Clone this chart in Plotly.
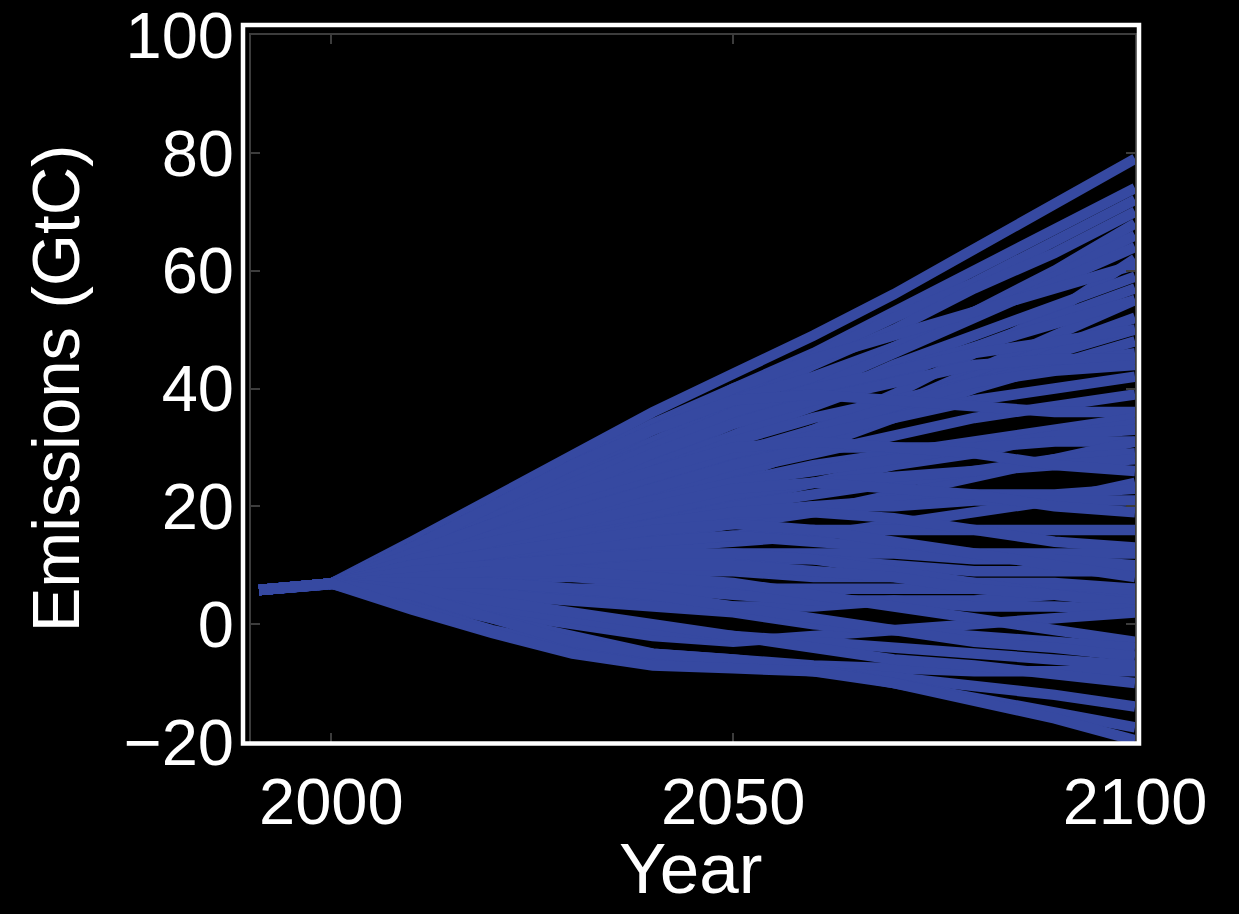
import plotly.graph_objects as go

# ---------------- data ----------------
years = [1991, 2000, 2010, 2020, 2030, 2040, 2050, 2060, 2070, 2080, 2090, 2100]

high_paths = [
    [5.8, 6.9, 14, 21.5, 29, 36, 42.5, 49, 56, 63.5, 71, 79],
    [5.8, 6.9, 13, 20, 27, 34, 40, 46, 53, 60, 67, 74],
    [5.8, 6.9, 13, 19.5, 26, 33, 39, 45.5, 52, 58, 65, 72],
    [5.8, 6.9, 12, 18, 25, 31, 37, 44, 50, 57, 63, 70],
    [5.8, 6.9, 12, 18, 24, 30, 35, 41, 47, 53, 60, 68],
    [5.8, 6.9, 13, 20, 27, 33, 38, 42, 47, 53, 59, 66],
    [5.8, 6.9, 11, 16, 22, 28, 34, 40, 46, 52, 58, 64],
    [5.8, 6.9, 11, 16, 20, 24, 28, 33, 39, 46, 53, 62],
    [5.8, 6.9, 12, 19, 26, 33, 40, 45, 49, 53, 57, 61],
    [5.8, 6.9, 11, 15, 20, 26, 32, 38, 44, 49, 54, 59],
    [5.8, 6.9, 12, 17, 22, 27, 32, 37, 42, 47, 52, 57],
    [5.8, 6.9, 9, 13, 17, 21, 26, 31, 37, 43, 49, 55],
    [5.8, 6.9, 13, 19, 25, 30, 35, 39, 43, 47, 51, 55],
    [5.8, 6.9, 11, 14, 18, 22, 27, 32, 37, 42, 47, 52],
    [5.8, 6.9, 10, 14, 18, 22, 26, 31, 36, 41, 46, 50],
    [5.8, 6.9, 12, 18, 24, 30, 36, 40, 43, 46, 48, 50],
]

mid_paths = [
    [5.8, 6.9, 10, 13, 17, 21, 25, 30, 35, 40, 44, 48],
    [5.8, 6.9, 12, 17, 21, 26, 31, 35, 38, 41, 44, 46],
    [5.8, 6.9, 12, 17, 23, 29, 34, 38, 41, 44, 45, 45],
    [5.8, 6.9, 10, 15, 20, 25, 29, 33, 37, 41, 43, 44],
    [5.8, 6.9, 11, 16, 21, 25, 29, 32, 35, 38, 40, 42],
    [5.8, 6.9, 10, 14, 18, 22, 26, 29, 32, 35, 37, 39],
    [5.8, 6.9, 13, 20, 27, 33, 38, 39, 38, 37, 36, 36],
    [5.8, 6.9, 9, 12, 16, 20, 24, 27, 29, 31, 33, 35],
    [5.8, 6.9, 9, 12, 15, 18, 21, 24, 27, 29, 32, 34],
    [5.8, 6.9, 11, 15, 18, 21, 24, 26, 28, 30, 32, 33],
    [5.8, 6.9, 11, 15, 19, 23, 27, 30, 30, 30, 31, 31],
    [5.8, 6.9, 9, 11, 13, 15, 17, 19, 22, 25, 28, 31],
    [5.8, 6.9, 8, 11, 14, 17, 20, 22, 24, 26, 28, 29],
    [5.8, 6.9, 10, 13, 16, 19, 22, 24, 25, 26, 27, 28],
    [5.8, 6.9, 12, 17, 22, 26, 30, 31, 30, 29, 27, 26],
    [5.8, 6.9, 8, 10, 12, 13, 14, 15, 17, 19, 21, 24],
    [5.8, 6.9, 9, 11, 13, 16, 18, 20, 21, 22, 22, 23],
    [5.8, 6.9, 10, 13, 15, 17, 19, 20, 20, 21, 21, 21],
    [5.8, 6.9, 11, 14, 17, 20, 23, 24, 23, 22, 20, 19],
    [5.8, 6.9, 8, 10, 12, 14, 15, 16, 16, 16, 16, 16],
    [5.8, 6.9, 9, 12, 14, 17, 19, 19, 18, 16, 14, 13],
    [5.8, 6.9, 10, 12, 13, 14, 15, 14, 13, 12, 12, 12],
]

low_paths = [
    [5.8, 6.9, 8, 9, 10, 11, 12, 12, 12, 11, 11, 10],
    [5.8, 6.9, 9, 10, 11, 11, 11, 11, 10, 9, 9, 9],
    [5.8, 6.9, 10, 12, 14, 16, 17, 16, 14, 12, 10, 8],
    [5.8, 6.9, 8, 8, 9, 9, 9, 8, 8, 7, 7, 6],
    [5.8, 6.9, 8, 8, 8, 7, 6, 6, 6, 6, 6, 6],
    [5.8, 6.9, 6, 6, 5, 4, 3, 3, 4, 4, 5, 5],
    [5.8, 6.9, 9, 10, 11, 12, 12, 11, 9, 7, 5, 4],
    [5.8, 6.9, 7, 8, 9, 10, 10, 9, 8, 6, 5, 3.5],
    [5.8, 6.9, 7, 7, 6, 6, 5, 4, 4, 3, 3, 2.5],
    [5.8, 6.9, 5, 2, 0, -2, -3, -2, -1, 0, 1, 2],
    [5.8, 6.9, 8, 9, 9, 8, 7, 5, 3, 1, -1, -3],
    [5.8, 6.9, 6, 5, 4, 3, 2, 0, -1, -2, -3, -4],
    [5.8, 6.9, 7, 7, 6, 5, 3, 1, -1, -3, -4, -5.5],
    [5.8, 6.9, 5, 3, 1, -1, -2, -3, -4, -5, -6, -7],
    [5.8, 6.9, 4, 1, -2, -5, -6, -7, -7.5, -8, -8, -8],
    [5.8, 6.9, 6, 4, 2, 0, -2, -4, -6, -7, -8.5, -10],
    [5.8, 6.9, 3, -1, -4, -6, -7, -8, -9, -10.5, -12, -14],
    [5.8, 6.9, 5, 1, -3, -5, -6, -7.5, -10, -12.5, -15, -17.5],
    [5.8, 6.9, 2.5, -1.5, -5, -7, -7.5, -8, -10, -13, -16, -19.7],
]

x_ticks = [2000, 2050, 2100]
x_tick_labels = ["2000", "2050", "2100"]
y_ticks = [-20, 0, 20, 40, 60, 80, 100]
y_tick_labels = ["\u221220", "0", "20", "40", "60", "80", "100"]
x_title = "Year"
y_title = "Emissions (GtC)"

# ---------------- figure ----------------
LINE = "#3649A1"
FONT = "Liberation Sans, Arial, Helvetica, sans-serif"

fig = go.Figure()
for group in (high_paths, mid_paths, low_paths):
    for path in group:
        fig.add_trace(go.Scatter(
            x=years, y=path, mode="lines",
            line=dict(color=LINE, width=10.5),
            showlegend=False, hoverinfo="skip",
        ))

W, H = 1239, 914
L, R, T, B = 251, 1135, 35, 742

fig.update_layout(
    width=W, height=H,
    margin=dict(l=L, r=W - R, t=T, b=H - B, pad=0),
    paper_bgcolor="black", plot_bgcolor="black",
    font=dict(family=FONT, color="white", size=65),
    showlegend=False,
)

fig.update_xaxes(
    range=[1990, 2100], tickvals=x_ticks, ticktext=x_tick_labels,
    showgrid=False, zeroline=False,
    showline=True, mirror="ticks", linecolor="#3c3c3c", linewidth=2,
    ticks="inside", ticklen=9, tickcolor="#3c3c3c", tickwidth=2,
    tickfont=dict(size=65, color="white"), ticklabelstandoff=2,
    ticklabeloverflow="allow",
    automargin=False,
)
fig.update_yaxes(
    range=[-20, 100], tickvals=y_ticks, ticktext=y_tick_labels,
    showgrid=False, zeroline=False,
    showline=True, mirror="ticks", linecolor="#3c3c3c", linewidth=2,
    ticks="inside", ticklen=9, tickcolor="#3c3c3c", tickwidth=2,
    tickfont=dict(size=65, color="white"), ticklabelstandoff=2,
    ticklabeloverflow="allow",
    title=dict(text=y_title, font=dict(size=67, color="white"), standoff=22),
    automargin=False,
)

# pixel -> paper helpers
pw, ph = R - L, B - T
def px(xp):
    return (xp - L) / pw
def py(yp):
    return (B - yp) / ph

# x-axis title
fig.add_annotation(
    text=x_title, xref="paper", yref="paper",
    x=px(690), y=py(868), xanchor="center", yanchor="middle",
    showarrow=False, font=dict(size=71, color="white", family=FONT),
)

# white outer frame
fig.add_shape(
    type="rect", xref="paper", yref="paper",
    x0=px(243), x1=px(1139), y0=py(743.5), y1=py(25),
    line=dict(color="white", width=4.5), fillcolor="rgba(0,0,0,0)", layer="above",
)

fig.write_html("out.html")
